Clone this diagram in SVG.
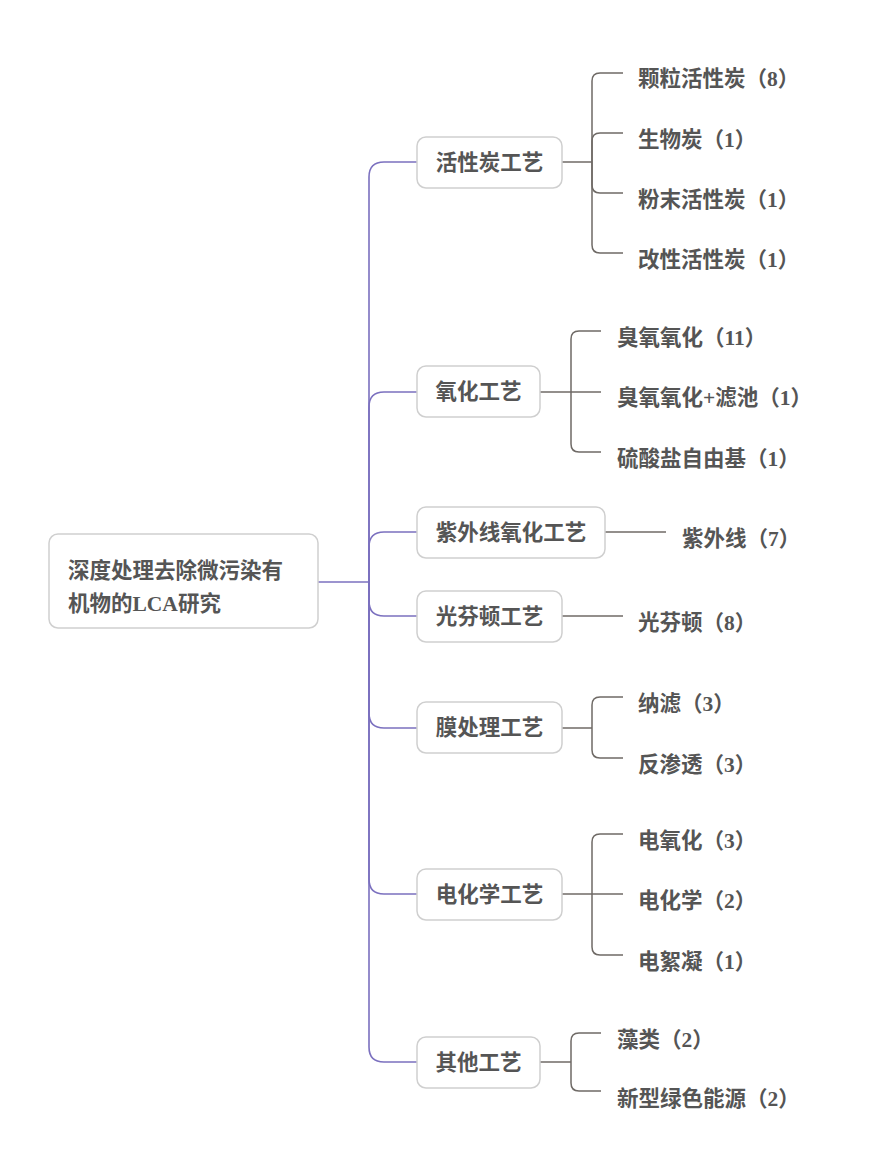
<svg xmlns="http://www.w3.org/2000/svg" width="878" height="1164" viewBox="0 0 878 1164">
<style>
.box{fill:#fff;stroke:#cfcfcf;stroke-width:1.5}
.t{font-family:"Liberation Serif","Noto Sans CJK SC",serif;font-weight:bold;font-size:21.5px;fill:#555}
.c{text-anchor:middle}
.p{fill:none;stroke:#7b70bf;stroke-width:1.6}
.g{fill:none;stroke:#6f6a66;stroke-width:1.5}
</style>
<rect width="878" height="1164" fill="#fff"/>
<g id="connectors">
<path class="p" d="M318,582 H369"/>
<path class="p" d="M369,582 V177 Q369,162 384,162 H417"/>
<path class="p" d="M369,582 V407 Q369,392 384,392 H417"/>
<path class="p" d="M369,582 V547 Q369,532 384,532 H417"/>
<path class="p" d="M369,582 V601 Q369,616 384,616 H417"/>
<path class="p" d="M369,582 V713 Q369,728 384,728 H417"/>
<path class="p" d="M369,582 V879 Q369,894 384,894 H417"/>
<path class="p" d="M369,582 V1047 Q369,1062 384,1062 H417"/>
<path class="g" d="M562,162 H592"/>
<path class="g" d="M592,162 V81 Q592,73 600,73 H623"/>
<path class="g" d="M592,162 V141 Q592,133 600,133 H623"/>
<path class="g" d="M592,162 V185 Q592,193 600,193 H623"/>
<path class="g" d="M592,162 V245 Q592,253 600,253 H623"/>
<path class="g" d="M540,392 H601"/>
<path class="g" d="M571,392 V339 Q571,331 579,331 H601"/>
<path class="g" d="M571,392 V444 Q571,452 579,452 H601"/>
<path class="g" d="M605,532 H666"/>
<path class="g" d="M562,616 H623"/>
<path class="g" d="M562,728 H592"/>
<path class="g" d="M592,728 V705 Q592,697 600,697 H623"/>
<path class="g" d="M592,728 V750 Q592,758 600,758 H623"/>
<path class="g" d="M562,894 H623"/>
<path class="g" d="M592,894 V842 Q592,834 600,834 H623"/>
<path class="g" d="M592,894 V947 Q592,955 600,955 H623"/>
<path class="g" d="M540,1062 H571"/>
<path class="g" d="M571,1062 V1041 Q571,1033 579,1033 H601"/>
<path class="g" d="M571,1062 V1083 Q571,1091 579,1091 H601"/>
</g>
<g id="root">
<rect class="box" x="49" y="534" width="269" height="94" rx="9"/>
<text class="t" x="68" y="578">深度处理去除微污染有</text>
<text class="t" x="68" y="611">机物的LCA研究</text>
</g>
<g id="n-huoxingtan">
<rect class="box" x="417" y="137" width="145" height="51" rx="9"/>
<text class="t c" x="489.5" y="170">活性炭工艺</text>
</g>
<g id="n-yanghua">
<rect class="box" x="417" y="366" width="123" height="51" rx="9"/>
<text class="t c" x="478.5" y="399">氧化工艺</text>
</g>
<g id="n-ziwai">
<rect class="box" x="417" y="507" width="188" height="51" rx="9"/>
<text class="t c" x="511" y="540">紫外线氧化工艺</text>
</g>
<g id="n-guangfendun">
<rect class="box" x="417" y="591" width="145" height="51" rx="9"/>
<text class="t c" x="489.5" y="624">光芬顿工艺</text>
</g>
<g id="n-mo">
<rect class="box" x="417" y="702" width="145" height="51" rx="9"/>
<text class="t c" x="489.5" y="735">膜处理工艺</text>
</g>
<g id="n-dianhuaxue">
<rect class="box" x="417" y="869" width="145" height="51" rx="9"/>
<text class="t c" x="489.5" y="902">电化学工艺</text>
</g>
<g id="n-qita">
<rect class="box" x="417" y="1037" width="123" height="51" rx="9"/>
<text class="t c" x="478.5" y="1070">其他工艺</text>
</g>
<g id="l1"><text class="t" x="638" y="86">颗粒活性炭（8）</text></g>
<g id="l2"><text class="t" x="638" y="147">生物炭（1）</text></g>
<g id="l3"><text class="t" x="638" y="207">粉末活性炭（1）</text></g>
<g id="l4"><text class="t" x="638" y="267">改性活性炭（1）</text></g>
<g id="l5"><text class="t" x="617" y="345">臭氧氧化（11）</text></g>
<g id="l6"><text class="t" x="617" y="405">臭氧氧化+滤池（1）</text></g>
<g id="l7"><text class="t" x="617" y="466">硫酸盐自由基（1）</text></g>
<g id="l8"><text class="t" x="682" y="546">紫外线（7）</text></g>
<g id="l9"><text class="t" x="638" y="630">光芬顿（8）</text></g>
<g id="l10"><text class="t" x="638" y="711">纳滤（3）</text></g>
<g id="l11"><text class="t" x="638" y="772">反渗透（3）</text></g>
<g id="l12"><text class="t" x="638" y="848">电氧化（3）</text></g>
<g id="l13"><text class="t" x="638" y="908">电化学（2）</text></g>
<g id="l14"><text class="t" x="638" y="969">电絮凝（1）</text></g>
<g id="l15"><text class="t" x="617" y="1047">藻类（2）</text></g>
<g id="l16"><text class="t" x="617" y="1106">新型绿色能源（2）</text></g>
</svg>
